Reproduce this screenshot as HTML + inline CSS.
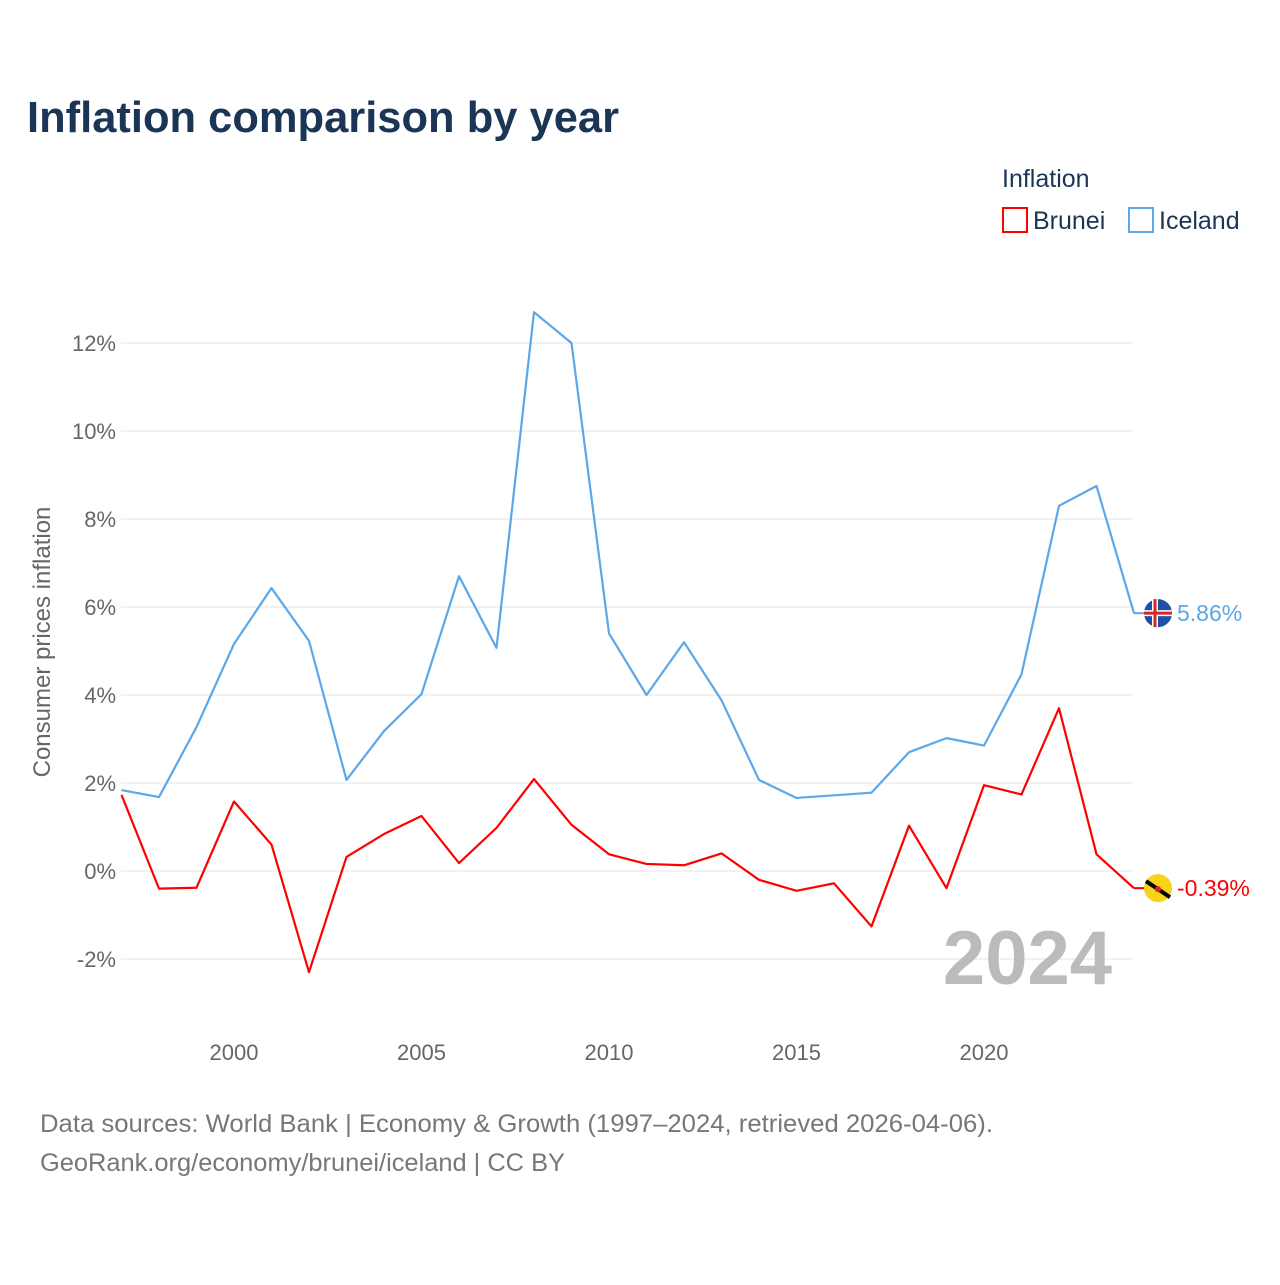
<!DOCTYPE html>
<html><head><meta charset="utf-8"><style>
body{margin:0;background:#fff;font-family:"Liberation Sans",sans-serif}
svg text{font-family:"Liberation Sans",sans-serif}
</style></head><body>
<svg id="chart" width="1280" height="1280" viewBox="0 0 1280 1280" xmlns="http://www.w3.org/2000/svg">
<rect width="1280" height="1280" fill="#fff"/>
<text x="27" y="132" font-size="44" font-weight="bold" fill="#1b3556" textLength="592" lengthAdjust="spacingAndGlyphs">Inflation comparison by year</text>
<text x="1002" y="187" font-size="25" fill="#1b3556">Inflation</text>
<g><rect x="1003" y="208" width="24" height="24" fill="none" stroke="#f00" stroke-width="2"/><text x="1033" y="229" font-size="25" fill="#1b3556">Brunei</text></g>
<g><rect x="1129" y="208" width="24" height="24" fill="none" stroke="#5aa7ea" stroke-width="2"/><text x="1159" y="229" font-size="25" fill="#1b3556">Iceland</text></g>
<text transform="translate(50,642) rotate(-90)" text-anchor="middle" font-size="24" fill="#666">Consumer prices inflation</text>
<g id="grid"></g><g id="xt"></g>
<text x="1112" y="984" text-anchor="end" font-size="76" font-weight="bold" fill="#bbb">2024</text>
<g id="lines"></g>
<text x="40" y="1132" font-size="25" fill="#777" textLength="953" lengthAdjust="spacingAndGlyphs">Data sources: World Bank | Economy &amp; Growth (1997–2024, retrieved 2026-04-06).</text>
<text x="40" y="1171" font-size="25" fill="#777" textLength="525" lengthAdjust="spacingAndGlyphs">GeoRank.org/economy/brunei/iceland | CC BY</text>
</svg>
<script>
const years=[1997,1998,1999,2000,2001,2002,2003,2004,2005,2006,2007,2008,2009,2010,2011,2012,2013,2014,2015,2016,2017,2018,2019,2020,2021,2022,2023,2024];
const iceland=[1.84,1.68,3.27,5.16,6.43,5.23,2.07,3.18,4.02,6.70,5.07,12.7,12.0,5.40,4.0,5.2,3.88,2.07,1.66,1.72,1.78,2.70,3.02,2.85,4.47,8.3,8.75,5.86];
const brunei=[1.73,-0.4,-0.38,1.58,0.6,-2.3,0.32,0.84,1.25,0.18,0.98,2.09,1.05,0.38,0.16,0.13,0.4,-0.2,-0.45,-0.28,-1.26,1.03,-0.39,1.95,1.74,3.7,0.38,-0.39];
const yTicks=[-2,0,2,4,6,8,10,12];
const xTicks=[2000,2005,2010,2015,2020];
const NS="http://www.w3.org/2000/svg";
const x=v=>121.5+(v-1997)*37.5, y=v=>871-v*44;
function mk(t,a,p){const e=document.createElementNS(NS,t);for(const k in a)e.setAttribute(k,a[k]);p.appendChild(e);return e;}
const g=document.getElementById('grid');
yTicks.forEach(v=>{
 const l=mk('line',{x1:121,x2:1133,y1:y(v),y2:y(v),stroke:'#e6e6e6','stroke-width':1},g);
 
 
 const t=mk('text',{x:116,y:y(v)+8,'text-anchor':'end','font-size':22,fill:'#666'},g);
 
 
 t.textContent=v+'%';
});
const xt=document.getElementById('xt');
xTicks.forEach(v=>{
 const t=mk('text',{x:x(v),y:1060,'text-anchor':'middle','font-size':22,fill:'#666'},xt);
 
 
 t.textContent=v;
});
const L=document.getElementById('lines');
[[iceland,'#5aa7ea','iceland'],[brunei,'#f00','brunei']].forEach(([d,c,n])=>{
 const p=mk('polyline',{points:d.map((v,i)=>x(years[i])+','+y(v)).join(' '),fill:'none',stroke:c,'stroke-width':2.2,'stroke-linejoin':'round'},L);
 
 
 const last=d[d.length-1],cy=y(last);
 mk('line',{x1:x(2024),x2:1146,y1:cy,y2:cy,stroke:c,'stroke-width':2},L);
 const f=mk('circle',{cx:1158,cy:cy,r:14,fill:n=='iceland'?'#1f4fa8':'#f7d417'},L);
 
 
 if(n=='iceland'){mk('rect',{x:1144,y:cy-3,width:28,height:6,fill:'#fff'},L);mk('rect',{x:1152,y:cy-14,width:6,height:28,fill:'#fff'},L);mk('rect',{x:1144,y:cy-1.5,width:28,height:3,fill:'#d72828'},L);mk('rect',{x:1153.5,y:cy-14,width:3,height:28,fill:'#d72828'},L);}
 else{mk('line',{x1:1146,y1:cy-7,x2:1170,y2:cy+9,stroke:'#000','stroke-width':4},L);mk('circle',{cx:1158,cy:cy+1,r:3,fill:'#d22'},L);}
 const t=mk('text',{x:1177,y:cy+8,'font-size':23,fill:c},L);
 
 
 t.textContent=last.toFixed(2)+'%';
});
</script>
</body></html>
